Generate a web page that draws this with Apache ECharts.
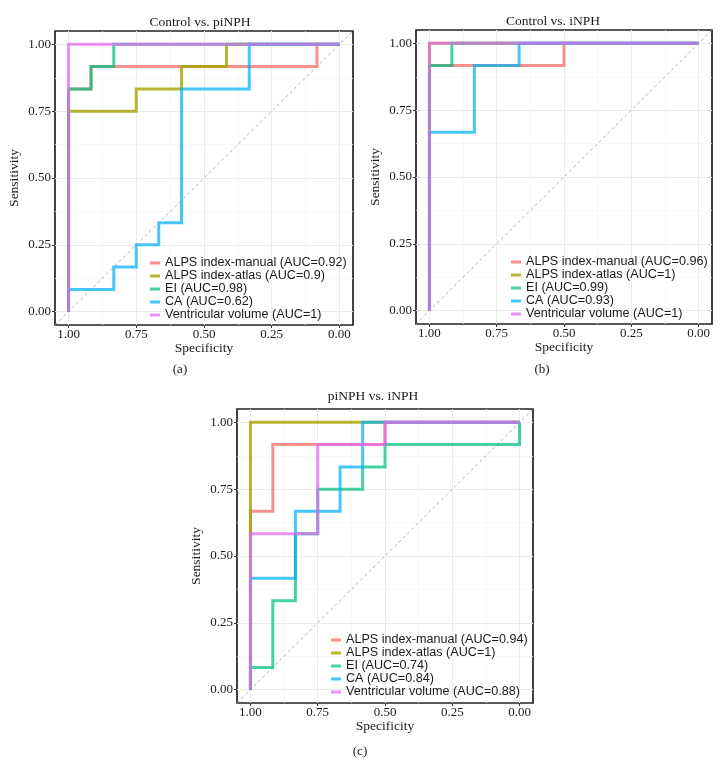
<!DOCTYPE html>
<html><head><meta charset="utf-8">
<script src="https://cdn.jsdelivr.net/npm/echarts@6/dist/echarts.min.js"></script>
<style>html,body{margin:0;padding:0;background:#fff}#c{width:724px;height:778px}</style>
</head><body><div id="c"></div>
<script>
// ---------- data ----------
const panelTitles = ['Control vs. piNPH', 'Control vs. iNPH', 'piNPH vs. iNPH'];
const panelTags = ['(a)', '(b)', '(c)'];
const markerNames = ['ALPS index-manual', 'ALPS index-atlas', 'EI', 'CA', 'Ventricular volume'];
const aucA = ['0.92', '0.9', '0.98', '0.62', '1'];
const aucB = ['0.96', '1', '0.99', '0.93', '1'];
const aucC = ['0.94', '1', '0.74', '0.84', '0.88'];
const tickValues = [0, 0.25, 0.5, 0.75, 1];
const tickLabels = ['0.00', '0.25', '0.50', '0.75', '1.00'];
const minorValues = [0.125, 0.375, 0.625, 0.875];
const axisRange = [-0.05, 1.05];
const diagSpec = [1.05, -0.05];
const diagSens = [-0.05, 1.05];

// Panel (a) Control vs. piNPH
const aManualSpec = [1, 1, 0.917, 0.917, 0.083, 0.083, 0];
const aManualSens = [0, 0.833, 0.833, 0.917, 0.917, 1, 1];
const aAtlasSpec = [1, 1, 0.75, 0.75, 0.583, 0.583, 0.417, 0.417, 0];
const aAtlasSens = [0, 0.75, 0.75, 0.833, 0.833, 0.917, 0.917, 1, 1];
const aEISpec = [1, 1, 0.917, 0.917, 0.833, 0.833, 0];
const aEISens = [0, 0.833, 0.833, 0.917, 0.917, 1, 1];
const aCASpec = [1, 1, 0.833, 0.833, 0.75, 0.75, 0.667, 0.667, 0.583, 0.583, 0.333, 0.333, 0];
const aCASens = [0, 0.083, 0.083, 0.167, 0.167, 0.25, 0.25, 0.333, 0.333, 0.833, 0.833, 1, 1];
const aVVSpec = [1, 1, 0];
const aVVSens = [0, 1, 1];

// Panel (b) Control vs. iNPH
const bManualSpec = [1, 1, 0.5, 0.5, 0];
const bManualSens = [0, 0.917, 0.917, 1, 1];
const bAtlasSpec = [1, 1, 0];
const bAtlasSens = [0, 1, 1];
const bEISpec = [1, 1, 0.917, 0.917, 0];
const bEISens = [0, 0.917, 0.917, 1, 1];
const bCASpec = [1, 1, 0.833, 0.833, 0.667, 0.667, 0];
const bCASens = [0, 0.667, 0.667, 0.917, 0.917, 1, 1];
const bVVSpec = [1, 1, 0];
const bVVSens = [0, 1, 1];

// Panel (c) piNPH vs. iNPH
const cManualSpec = [1, 1, 0.917, 0.917, 0.5, 0.5, 0];
const cManualSens = [0, 0.667, 0.667, 0.917, 0.917, 1, 1];
const cAtlasSpec = [1, 1, 0];
const cAtlasSens = [0, 1, 1];
const cEISpec = [1, 1, 0.917, 0.917, 0.833, 0.833, 0.75, 0.75, 0.583, 0.583, 0.5, 0.5, 0, 0];
const cEISens = [0, 0.083, 0.083, 0.333, 0.333, 0.583, 0.583, 0.75, 0.75, 0.833, 0.833, 0.917, 0.917, 1];
const cCASpec = [1, 1, 0.833, 0.833, 0.667, 0.667, 0.583, 0.583, 0];
const cCASens = [0, 0.417, 0.417, 0.667, 0.667, 0.833, 0.833, 1, 1];
const cVVSpec = [1, 1, 0.75, 0.75, 0.5, 0.5, 0];
const cVVSens = [0, 0.583, 0.583, 0.917, 0.917, 1, 1];

// ---------- styling / layout ----------
const colors = ['rgba(248,118,109,0.8)', 'rgba(163,165,0,0.8)', 'rgba(0,191,125,0.72)', 'rgba(0,176,246,0.72)', 'rgba(231,107,243,0.75)'];
const SERIF = '"Liberation Serif", "Times New Roman", serif';
const SANS = '"Liberation Sans", Arial, sans-serif';
const TXT = '#1a1a1a';

const panels = [
  { grid: { left: 55, top: 31, width: 298, height: 294 }, titleX: 200, titleY: 15, tagX: 180, tagY: 363,
    legend: { left: 150, top: 256.5 }, auc: aucA,
    curves: [[aManualSpec, aManualSens], [aAtlasSpec, aAtlasSens], [aEISpec, aEISens], [aCASpec, aCASens], [aVVSpec, aVVSens]] },
  { grid: { left: 416, top: 30, width: 296, height: 294 }, titleX: 553, titleY: 14, tagX: 542, tagY: 363,
    legend: { left: 511, top: 255.5 }, auc: aucB,
    curves: [[bManualSpec, bManualSens], [bAtlasSpec, bAtlasSens], [bEISpec, bEISens], [bCASpec, bCASens], [bVVSpec, bVVSens]] },
  { grid: { left: 237, top: 409, width: 296, height: 294 }, titleX: 373, titleY: 389, tagX: 360, tagY: 745,
    legend: { left: 331, top: 633.5 }, auc: aucC,
    curves: [[cManualSpec, cManualSens], [cAtlasSpec, cAtlasSens], [cEISpec, cEISens], [cCASpec, cCASens], [cVVSpec, cVVSens]] }
];

const zip = (xs, ys) => xs.map((x, i) => [x, ys[i]]);
const fmt = v => { const i = tickValues.findIndex(t => Math.abs(t - v) < 1e-9); return i >= 0 ? tickLabels[i] : ''; };

const option = { animation: false, backgroundColor: '#fff', grid: [], xAxis: [], yAxis: [], series: [], legend: [], title: [] };

panels.forEach((p, i) => {
  option.grid.push(Object.assign({ show: true, borderColor: '#222', borderWidth: 1.7, backgroundColor: '#fff', containLabel: false, outerBoundsMode: 'none' }, p.grid));
  const labelStyle = { fontFamily: SERIF, fontSize: 13, color: TXT };
  const nameStyle = { fontFamily: SERIF, fontSize: 13.5, color: TXT };
  const hiddenTick = { show: false, length: 0, lineStyle: { color: 'rgba(0,0,0,0)' }, customValues: minorValues };
  option.xAxis.push({
    gridIndex: i, type: 'value', min: axisRange[0], max: axisRange[1], inverse: true, position: 'bottom',
    axisLine: { show: false, onZero: false },
    axisTick: { show: true, length: 3, lineStyle: { color: '#333', width: 1 }, customValues: tickValues },
    axisLabel: Object.assign({ customValues: tickValues, formatter: fmt, margin: 3 }, labelStyle),
    splitLine: { show: true, lineStyle: { color: '#ebebeb', width: 1 } },
    name: 'Specificity', nameLocation: 'middle', nameGap: 16, nameTextStyle: nameStyle
  });
  option.xAxis.push({
    gridIndex: i, type: 'value', min: axisRange[0], max: axisRange[1], inverse: true, position: 'top',
    axisLine: { show: false, onZero: false }, axisTick: hiddenTick, axisLabel: { show: false },
    splitLine: { show: true, lineStyle: { color: '#f5f5f5', width: 0.7 } }
  });
  option.yAxis.push({
    gridIndex: i, type: 'value', min: axisRange[0], max: axisRange[1], position: 'left',
    axisLine: { show: false, onZero: false },
    axisTick: { show: true, length: 3, lineStyle: { color: '#333', width: 1 }, customValues: tickValues },
    axisLabel: Object.assign({ customValues: tickValues, formatter: fmt, margin: 4 }, labelStyle),
    splitLine: { show: true, lineStyle: { color: '#ebebeb', width: 1 } },
    name: 'Sensitivity', nameLocation: 'middle', nameGap: 34, nameTextStyle: nameStyle
  });
  option.yAxis.push({
    gridIndex: i, type: 'value', min: axisRange[0], max: axisRange[1], position: 'right',
    axisLine: { show: false, onZero: false }, axisTick: hiddenTick, axisLabel: { show: false },
    splitLine: { show: true, lineStyle: { color: '#f5f5f5', width: 0.7 } }
  });
  // diagonal reference
  option.series.push({
    type: 'line', xAxisIndex: 2 * i, yAxisIndex: 2 * i, data: zip(diagSpec, diagSens), symbol: 'none', silent: true,
    lineStyle: { color: '#9a9a9a', width: 0.8, type: [3, 3] }, z: 1
  });
  const names = markerNames.map((n, k) => n + ' (AUC=' + p.auc[k] + ')');
  p.curves.forEach((c, k) => {
    option.series.push({
      type: 'line', name: names[k], xAxisIndex: 2 * i, yAxisIndex: 2 * i, data: zip(c[0], c[1]),
      symbol: 'none', showSymbol: false,
      lineStyle: { color: colors[k], width: 3, join: 'miter', cap: 'butt' }, itemStyle: { color: colors[k] }, z: 2
    });
  });
  option.legend.push({
    data: names, orient: 'vertical', left: p.legend.left, top: p.legend.top, padding: 0, itemGap: 0,
    icon: 'rect', itemWidth: 10, itemHeight: 3, selectedMode: false,
    textStyle: { fontFamily: SANS, fontSize: 12.6, lineHeight: 12.9, color: TXT }
  });
  option.title.push({
    text: panelTitles[i], left: p.titleX, top: p.titleY, textAlign: 'center', padding: 0,
    textStyle: { fontFamily: SERIF, fontSize: 13.5, fontWeight: 'normal', color: TXT }
  });
  option.title.push({
    text: panelTags[i], left: p.tagX, top: p.tagY, textAlign: 'center', padding: 0,
    textStyle: { fontFamily: SERIF, fontSize: 13, fontWeight: 'normal', color: TXT }
  });
});

const chart = echarts.init(document.getElementById('c'), null, { renderer: 'canvas' });
chart.setOption(option);
</script></body></html>
